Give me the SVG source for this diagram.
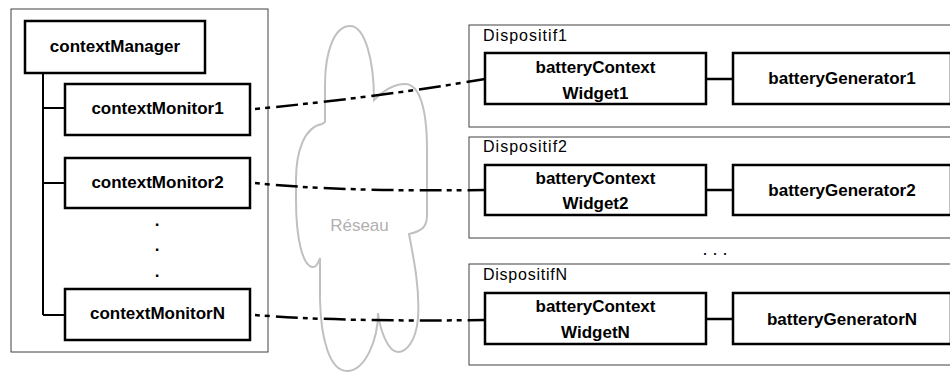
<svg xmlns="http://www.w3.org/2000/svg" width="950" height="372" viewBox="0 0 950 372">
<style>
.cont{fill:#fff;stroke:#404040;stroke-width:1}
.box{fill:#fff;stroke:#000;stroke-width:2.5}
.b{font-family:"Liberation Sans",Arial,sans-serif;font-weight:bold;font-size:17px;fill:#000;text-anchor:middle}
.r{font-family:"Liberation Sans",Arial,sans-serif;font-size:16px;fill:#000}
.tree{fill:none;stroke:#000;stroke-width:2}
.link{fill:none;stroke:#000;stroke-width:2.5;stroke-dasharray:22 5 5 5 5 6;stroke-dashoffset:27}
.solid{fill:none;stroke:#000;stroke-width:2.5}
</style>
<rect width="950" height="372" fill="#fff"/>
<g id="cloud">
<path d="M325,122 L325,85 C325,50 335,26 350,26 C365,26 374,60 374,100 C385,89 395,84 405,84 C420,84 427,110 427,150 L427,215 C427,226 423,231 409,234 C414,260 420,290 418,318 C416,342 406,352 398,352 C388,352 380,330 378,313 C378,340 365,371 347,371 C330,371 321,340 320,300 L320,258 C318,264 316,268 312,267 C303,265 296,240 296,200 L296,180 C296,150 305,127 322,124 Z" fill="none" stroke="#c0c0c0" stroke-width="2"/>
<text x="359.5" y="231" font-family="Liberation Sans, Arial, sans-serif" font-size="17" fill="#b0b0b0" text-anchor="middle">Réseau</text>
</g>
<g id="manager-container">
<rect class="cont" x="11" y="9" width="257" height="343"/>
</g>
<g id="tree" class="tree">
<path d="M43,73 V315 M43,108 H65 M43,183 H65 M43,315 H65"/>
</g>
<g id="contextManager">
<rect class="box" x="25" y="21" width="180" height="52"/>
<text class="b" x="115" y="52">contextManager</text>
</g>
<g id="contextMonitor1">
<rect class="box" x="65" y="84" width="185" height="51"/>
<text class="b" x="157.5" y="114">contextMonitor1</text>
</g>
<g id="contextMonitor2">
<rect class="box" x="65" y="158" width="185" height="50"/>
<text class="b" x="157.5" y="188">contextMonitor2</text>
</g>
<g id="vdots">
<text class="b" x="157" y="226">.</text>
<text class="b" x="157" y="251">.</text>
<text class="b" x="157" y="277">.</text>
</g>
<g id="contextMonitorN">
<rect class="box" x="65" y="289" width="185" height="51"/>
<text class="b" x="157.5" y="319">contextMonitorN</text>
</g>
<g id="Dispositif1">
<rect class="cont" x="469" y="25" width="490" height="102"/>
<text class="r" x="483" y="41" textLength="84">Dispositif1</text>
</g>
<g id="Dispositif2">
<rect class="cont" x="469" y="137" width="490" height="101"/>
<text class="r" x="483" y="152" textLength="84">Dispositif2</text>
</g>
<g id="hdots">
<text x="715" y="255" font-family="Liberation Sans, Arial, sans-serif" font-size="18" text-anchor="middle">. . .</text>
</g>
<g id="DispositifN">
<rect class="cont" x="469" y="264" width="490" height="101"/>
<text class="r" x="483" y="280" textLength="84">DispositifN</text>
</g>
<g id="connectors">
<path class="link" d="M255,109 Q380,97 485,79"/>
<path class="link" d="M255,183 Q340,192 485,190"/>
<path class="link" d="M255,315 Q340,322 485,320"/>
<path class="solid" d="M706,79 H733 M706,190 H733 M706,319 H733"/>
</g>
<g id="batteryContextWidget1">
<rect class="box" x="485" y="53" width="221" height="51"/>
<text class="b" x="595.5" y="73">batteryContext</text>
<text class="b" x="595.5" y="99">Widget1</text>
</g>
<g id="batteryGenerator1">
<rect class="box" x="733" y="53" width="218" height="51"/>
<text class="b" x="842" y="84">batteryGenerator1</text>
</g>
<g id="batteryContextWidget2">
<rect class="box" x="485" y="165" width="221" height="50"/>
<text class="b" x="595.5" y="184">batteryContext</text>
<text class="b" x="595.5" y="209">Widget2</text>
</g>
<g id="batteryGenerator2">
<rect class="box" x="733" y="165" width="218" height="50"/>
<text class="b" x="842" y="196">batteryGenerator2</text>
</g>
<g id="batteryContextWidgetN">
<rect class="box" x="485" y="293" width="221" height="51"/>
<text class="b" x="595.5" y="312">batteryContext</text>
<text class="b" x="595.5" y="338">WidgetN</text>
</g>
<g id="batteryGeneratorN">
<rect class="box" x="733" y="293" width="218" height="51"/>
<text class="b" x="842" y="325">batteryGeneratorN</text>
</g>
</svg>
